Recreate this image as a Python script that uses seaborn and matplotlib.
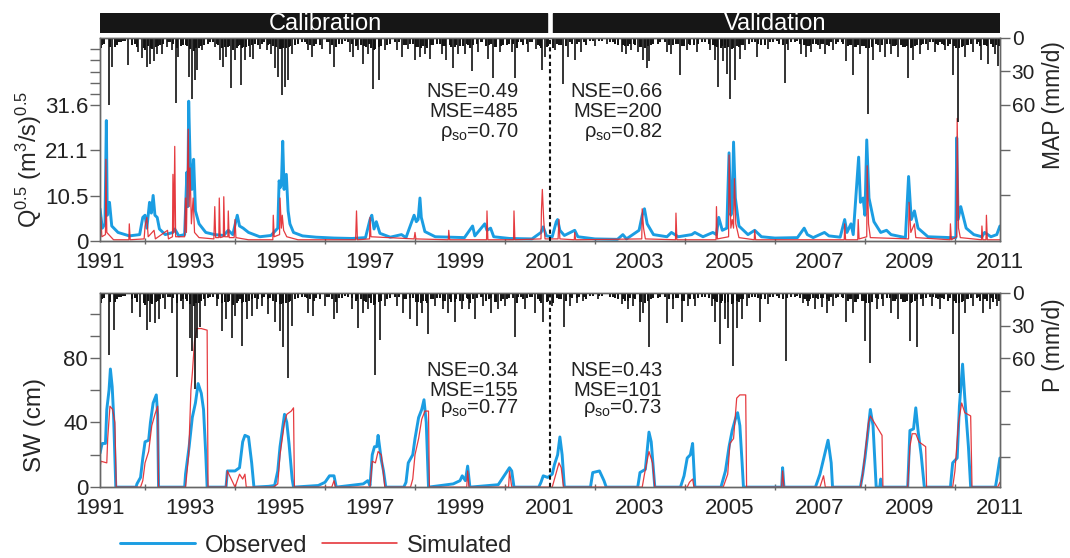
import matplotlib
matplotlib.use("Agg")
import matplotlib.pyplot as plt
from matplotlib.lines import Line2D
import pandas as pd
import seaborn as sns

sns.set_theme(style="ticks")
plt.rcParams["font.family"] = ["Liberation Sans", "DejaVu Sans"]
plt.rcParams["mathtext.fontset"] = "custom"
plt.rcParams["mathtext.rm"] = "Liberation Sans"
plt.rcParams["mathtext.it"] = "Liberation Sans"

OBS_C = "#1b9de2"
SIM_C = "#e3262b"
AX_C = "#666666"
RAIN_C = "#111111"

# ---------------------------------------------------------------
# data (decimal years)
# ---------------------------------------------------------------

# streamflow, Q^0.5
q_obs_t = [1991.00, 1991.05, 1991.11, 1991.14, 1991.16, 1991.21, 1991.26, 1991.40, 1991.65, 1991.88,
           1991.95, 1992.00, 1992.04, 1992.10, 1992.14, 1992.18, 1992.22, 1992.27, 1992.32, 1992.45,
           1992.62, 1992.66, 1992.75, 1992.88, 1992.93, 1992.95, 1992.97, 1993.00, 1993.04, 1993.08,
           1993.12, 1993.20, 1993.35, 1993.55, 1993.75, 1993.85, 1993.95, 1994.05, 1994.10, 1994.18,
           1994.30, 1994.55, 1994.80, 1994.95, 1994.98, 1995.01, 1995.03, 1995.06, 1995.09, 1995.14,
           1995.18, 1995.22, 1995.30, 1995.50, 1995.80, 1996.20, 1996.60, 1996.90, 1997.00, 1997.04,
           1997.09, 1997.14, 1997.22, 1997.45, 1997.70, 1997.80, 1997.98, 1998.03, 1998.07, 1998.11,
           1998.14, 1998.22, 1998.45, 1998.80, 1999.10, 1999.28, 1999.33, 1999.55, 1999.60, 1999.68,
           1999.75, 2000.10, 2000.60, 2000.80, 2000.85, 2000.92, 2001.05, 2001.14, 2001.17, 2001.22,
           2001.32, 2001.55, 2001.62, 2002.00, 2002.50, 2002.62, 2002.70, 2002.98, 2003.05, 2003.10,
           2003.16, 2003.30, 2003.60, 2003.70, 2003.85, 2004.15, 2004.22, 2004.40, 2004.62, 2004.70,
           2004.75, 2004.83, 2004.93, 2004.98, 2005.02, 2005.05, 2005.08, 2005.12, 2005.20, 2005.40,
           2005.55, 2005.70, 2006.00, 2006.50, 2006.65, 2006.72, 2006.85, 2007.10, 2007.20, 2007.45,
           2007.55, 2007.60, 2007.69, 2007.74, 2007.86, 2007.90, 2007.96, 2008.00, 2008.04, 2008.09,
           2008.20, 2008.35, 2008.48, 2008.58, 2008.90, 2008.97, 2009.03, 2009.10, 2009.18, 2009.40,
           2009.90, 2010.02, 2010.04, 2010.07, 2010.13, 2010.25, 2010.42, 2010.60, 2010.66, 2010.80,
           2010.93, 2011.00]
q_obs_v = [7.5, 3.0, 4.0, 28.0, 6.0, 9.0, 3.5, 2.0, 1.2, 1.5,
           5.5, 6.0, 3.0, 9.0, 6.5, 10.6, 6.0, 5.5, 2.8, 1.5,
           2.0, 2.8, 1.2, 1.5, 16.0, 8.0, 32.5, 19.5, 12.0, 19.0,
           7.0, 4.0, 2.0, 1.5, 1.3, 2.5, 1.5, 6.0, 3.5, 3.0,
           2.0, 1.0, 1.3, 3.0, 14.0, 12.5, 13.0, 23.2, 12.0, 15.5,
           7.0, 4.0, 2.0, 1.2, 0.9, 0.7, 0.6, 0.8, 5.0, 6.0,
           2.8, 4.5, 1.8, 0.9, 1.5, 0.8, 6.0, 4.5, 5.0, 10.0,
           5.5, 2.2, 1.0, 0.9, 0.8, 3.5, 1.2, 4.0, 2.5, 3.0,
           1.0, 0.6, 0.5, 2.0, 3.3, 1.2, 1.0, 4.5, 5.0, 2.5,
           1.3, 2.5, 1.0, 0.5, 0.4, 1.5, 0.5, 2.5, 6.0, 7.5,
           4.0, 1.5, 1.0, 2.0, 1.0, 1.5, 2.0, 1.0, 2.0, 1.5,
           5.5, 2.5, 3.0, 20.5, 6.0, 7.5, 23.0, 10.0, 3.5, 1.5,
           2.5, 1.0, 0.7, 0.8, 3.0, 1.5, 0.8, 2.0, 1.2, 0.9,
           5.0, 2.0, 4.0, 1.5, 19.5, 9.0, 10.0, 6.0, 23.5, 10.0,
           4.5, 2.0, 2.5, 1.5, 0.8, 15.0, 5.0, 7.0, 3.0, 1.0,
           0.8, 0.8, 24.0, 5.0, 8.0, 3.0, 1.5, 1.0, 2.0, 1.0,
           1.5, 3.5]

q_sim_t = [1991.00, 1991.02, 1991.04, 1991.12, 1991.13, 1991.15, 1991.30, 1991.64, 1991.65, 1991.67,
           1991.98, 1992.00, 1992.04, 1992.07, 1992.20, 1992.23, 1992.50, 1992.52, 1992.61, 1992.62,
           1992.64, 1992.66, 1992.68, 1992.88, 1992.90, 1992.92, 1992.96, 1992.98, 1993.00, 1993.03,
           1993.07, 1993.10, 1993.20, 1993.53, 1993.55, 1993.57, 1993.64, 1993.65, 1993.67, 1993.74,
           1993.75, 1993.77, 1993.84, 1993.85, 1993.87, 1993.98, 1994.00, 1994.02, 1994.30, 1994.84,
           1994.85, 1994.87, 1994.99, 1995.00, 1995.03, 1995.05, 1995.08, 1995.15, 1995.40, 1996.68,
           1996.70, 1996.72, 1996.99, 1997.00, 1997.02, 1997.98, 1998.00, 1998.02, 1998.74, 1998.75,
           1998.77, 1999.59, 1999.60, 1999.62, 2000.19, 2000.20, 2000.22, 2000.80, 2000.81, 2000.83,
           2000.86, 2000.89, 2001.18, 2001.20, 2001.22, 2001.54, 2001.55, 2001.57, 2003.04, 2003.05,
           2003.08, 2003.12, 2003.79, 2003.80, 2003.82, 2004.69, 2004.70, 2004.72, 2004.97, 2004.98,
           2005.02, 2005.05, 2005.08, 2005.10, 2005.13, 2005.20, 2005.54, 2005.55, 2005.57, 2007.54,
           2007.55, 2007.57, 2007.84, 2007.85, 2007.87, 2008.04, 2008.05, 2008.08, 2008.12, 2008.97,
           2008.98, 2009.02, 2009.10, 2009.13, 2009.89, 2009.90, 2009.92, 2010.04, 2010.05, 2010.08,
           2010.12, 2010.59, 2010.60, 2010.62, 2010.69, 2010.70, 2010.72, 2011.00]
q_sim_v = [0.5, 5.5, 1.0, 1.5, 19.0, 2.0, 0.3, 0.3, 4.0, 0.3,
           0.5, 3.5, 5.5, 1.0, 2.5, 0.5, 2.5, 0.5, 1.0, 15.5,
           2.0, 22.0, 1.0, 1.0, 10.0, 2.0, 26.0, 8.0, 17.0, 4.0,
           10.0, 2.0, 0.8, 0.5, 8.0, 0.8, 0.8, 10.0, 0.8, 1.0,
           10.3, 1.0, 1.0, 7.0, 0.8, 0.8, 5.0, 0.8, 0.3, 0.3,
           6.0, 1.0, 1.5, 10.0, 3.0, 6.0, 2.5, 1.0, 0.3, 0.3,
           7.0, 0.3, 0.5, 5.5, 1.0, 0.5, 2.0, 0.5, 0.3, 2.5,
           0.3, 0.3, 7.0, 0.3, 0.3, 7.0, 0.3, 0.5, 7.0, 12.0,
           5.0, 0.5, 0.5, 5.0, 0.5, 0.3, 2.0, 0.3, 0.5, 7.5,
           3.0, 0.5, 0.3, 6.5, 0.3, 0.3, 8.0, 0.5, 1.0, 20.0,
           3.0, 5.0, 3.0, 14.5, 4.0, 0.8, 0.3, 2.5, 0.3, 0.3,
           4.0, 0.3, 0.3, 5.0, 0.5, 1.0, 17.5, 4.0, 0.8, 0.5,
           9.0, 2.0, 4.0, 0.8, 0.3, 4.0, 0.3, 1.0, 28.5, 3.0,
           0.8, 0.3, 3.5, 0.3, 0.3, 6.0, 0.3, 0.3]

# soil water, cm
sw_obs_t = [1991.00, 1991.03, 1991.05, 1991.12, 1991.15, 1991.20, 1991.23, 1991.27, 1991.30, 1991.35,
            1991.80, 1991.82, 1991.90, 1991.95, 1992.00, 1992.08, 1992.12, 1992.18, 1992.25, 1992.28,
            1992.30, 1992.88, 1992.90, 1992.98, 1993.05, 1993.12, 1993.18, 1993.25, 1993.30, 1993.35,
            1993.38, 1993.80, 1993.83, 1994.00, 1994.10, 1994.17, 1994.22, 1994.30, 1994.37, 1994.42,
            1994.75, 1994.88, 1994.95, 1995.00, 1995.05, 1995.10, 1995.15, 1995.20, 1995.27, 1995.30,
            1995.85, 1996.00, 1996.10, 1996.20, 1996.25, 1996.85, 1996.95, 1997.00, 1997.05, 1997.10,
            1997.15, 1997.18, 1997.25, 1997.30, 1997.35, 1997.75, 1997.80, 1997.85, 1997.95, 1998.00,
            1998.08, 1998.15, 1998.20, 1998.25, 1998.30, 1998.85, 1999.00, 1999.05, 1999.12, 1999.17,
            1999.22, 1999.85, 2000.10, 2000.15, 2000.20, 2000.75, 2000.80, 2000.85, 2000.95, 2001.05,
            2001.10, 2001.17, 2001.22, 2001.27, 2001.32, 2001.90, 2001.95, 2002.10, 2002.20, 2002.25,
            2002.95, 2003.00, 2003.12, 2003.17, 2003.20, 2003.25, 2003.33, 2003.90, 2003.98, 2004.05,
            2004.12, 2004.17, 2004.22, 2004.80, 2004.90, 2004.98, 2005.05, 2005.12, 2005.17, 2005.22,
            2005.27, 2005.30, 2006.15, 2006.17, 2006.20, 2006.90, 2007.00, 2007.12, 2007.18, 2007.25,
            2007.28, 2007.90, 2007.95, 2008.00, 2008.05, 2008.12, 2008.18, 2008.25, 2008.33, 2008.35,
            2008.37, 2008.95, 2009.00, 2009.08, 2009.13, 2009.18, 2009.25, 2009.32, 2009.90, 2009.95,
            2010.05, 2010.10, 2010.17, 2010.22, 2010.30, 2010.35, 2010.90, 2010.93, 2011.00]
sw_obs_v = [21, 25, 27, 27, 48, 60, 73, 62, 45, 0,
            0, 2, 6, 18, 28, 29, 40, 52, 57, 45,
            0, 0, 8, 25, 43, 52, 64, 58, 48, 20,
            0, 0, 10, 10, 12, 28, 32, 31, 15, 0,
            0.5, 1, 10, 25, 35, 45, 40, 27, 5, 0,
            1, 3, 7, 7, 0, 2, 4, 1, 20, 25,
            25, 32, 17, 10, 0, 0, 3, 15, 20, 30,
            43, 48, 54, 40, 0, 2, 4, 7, 4, 13,
            0, 1.5, 12, 10, 0, 0, 3, 7, 6, 8,
            14, 20, 31, 20, 0, 0, 9, 10, 4, 0,
            0, 9, 11, 25, 34, 28, 0, 0, 7, 18,
            20, 27, 0, 0, 10, 25, 35, 42, 46, 38,
            15, 0, 0, 12, 0, 0, 8, 22, 29, 15,
            0, 0, 8, 18, 30, 48, 38, 0, 0, 5,
            0, 0, 35, 36, 49, 35, 20, 0, 0, 15,
            18, 50, 76, 55, 25, 0, 0, 5, 18]

sw_sim_t = [1991.00, 1991.02, 1991.15, 1991.17, 1991.22, 1991.28, 1991.33, 1991.36, 1991.90, 1991.95,
            1992.00, 1992.08, 1992.15, 1992.22, 1992.28, 1992.30, 1992.90, 1992.97, 1993.02, 1993.05,
            1993.10, 1993.15, 1993.25, 1993.38, 1993.40, 1993.80, 1993.83, 1993.95, 1994.00, 1994.10,
            1994.17, 1994.22, 1994.25, 1994.85, 1994.95, 1995.00, 1995.05, 1995.10, 1995.15, 1995.25,
            1995.30, 1995.32, 1996.15, 1996.20, 1996.23, 1997.00, 1997.05, 1997.12, 1997.18, 1997.25,
            1997.30, 1997.33, 1997.90, 1997.95, 1998.00, 1998.08, 1998.15, 1998.22, 1998.30, 1998.32,
            1999.15, 1999.17, 1999.20, 2000.08, 2000.10, 2000.15, 2001.05, 2001.10, 2001.20, 2001.25,
            2001.30, 2003.05, 2003.10, 2003.20, 2003.28, 2003.33, 2004.05, 2004.10, 2004.17, 2004.20,
            2004.85, 2004.95, 2005.00, 2005.08, 2005.15, 2005.22, 2005.35, 2005.37, 2006.15, 2006.17,
            2006.20, 2007.00, 2007.08, 2007.12, 2007.90, 2007.95, 2008.00, 2008.08, 2008.12, 2008.25,
            2008.38, 2008.40, 2008.95, 2009.00, 2009.05, 2009.13, 2009.20, 2009.35, 2009.37, 2009.95,
            2010.00, 2010.08, 2010.15, 2010.22, 2010.35, 2010.38, 2010.95, 2011.00]
sw_sim_v = [12, 16, 15, 30, 50, 48, 40, 0, 0, 4,
            15, 22, 38, 45, 50, 0, 0, 20, 60, 70,
            90, 98, 98, 97, 0, 0, 10, 3, 0, 8,
            5, 8, 0, 0, 2, 20, 30, 40, 45, 47,
            49, 0, 0, 4, 0, 0, 16, 15, 22, 20,
            8, 0, 0, 5, 20, 30, 42, 47, 47, 0,
            0, 10, 0, 0, 10, 0, 0, 5, 15, 12,
            0, 0, 8, 22, 15, 0, 0, 3, 5, 0,
            0, 8, 27, 30, 55, 57, 57, 0, 0, 10,
            0, 0, 7, 0, 0, 8, 20, 40, 44, 38,
            32, 0, 0, 25, 33, 33, 28, 25, 0, 0,
            10, 40, 52, 46, 44, 0, 0, 3]

# mean areal precipitation (top panel), mm/d
map_t = [1991.19, 1991.26, 1991.63, 1991.85, 1991.93, 1992.04, 1992.11, 1992.19, 1992.26, 1992.37,
         1992.48, 1992.59, 1992.68, 1992.74, 1992.98, 1993.04, 1993.10, 1993.15, 1993.26, 1993.56,
         1993.67, 1993.74, 1993.81, 1993.91, 1993.99, 1994.13, 1994.22, 1994.33, 1994.41, 1994.56,
         1994.70, 1994.81, 1994.89, 1994.96, 1995.04, 1995.10, 1995.17, 1995.26, 1995.63, 1995.70,
         1995.93, 1996.11, 1996.19, 1996.56, 1996.63, 1996.74, 1996.85, 1996.95, 1997.06, 1997.19,
         1997.33, 1997.59, 1997.70, 1997.85, 1998.00, 1998.11, 1998.22, 1998.33, 1998.59, 1998.70,
         1998.85, 1998.96, 1999.11, 1999.26, 1999.41, 1999.63, 1999.74, 1999.89, 2000.15, 2000.22,
         2000.52, 2000.70, 2000.83, 2000.89, 2001.11, 2001.28, 2001.41, 2001.56, 2001.70, 2002.00,
         2002.26, 2002.59, 2002.70, 2002.81, 2002.96, 2003.07, 2003.15, 2003.21, 2003.59, 2003.70,
         2003.89, 2004.04, 2004.26, 2004.56, 2004.67, 2004.74, 2004.85, 2004.93, 2005.01, 2005.11,
         2005.22, 2005.33, 2005.59, 2005.85, 2006.22, 2006.30, 2006.59, 2006.70, 2006.81, 2007.00,
         2007.11, 2007.30, 2007.59, 2007.74, 2007.89, 2008.07, 2008.19, 2008.33, 2008.44, 2008.59,
         2008.74, 2008.96, 2009.07, 2009.22, 2009.41, 2009.56, 2009.78, 2009.96, 2010.07, 2010.22,
         2010.41, 2010.59, 2010.74, 2010.89, 2010.96]
map_mm = [60, 26, 24, 13, 18, 26, 23, 21, 14, 14,
          8, 11, 58, 17, 35, 55, 38, 29, 11, 8,
          20, 26, 17, 45, 20, 42, 20, 17, 19, 10,
          11, 14, 27, 35, 51, 44, 38, 14, 11, 17,
          10, 14, 26, 13, 17, 11, 23, 14, 46, 38,
          11, 11, 17, 10, 20, 17, 14, 19, 14, 20,
          27, 14, 14, 30, 13, 19, 36, 13, 13, 36,
          13, 10, 29, 17, 11, 41, 17, 20, 13, 7,
          5, 13, 14, 11, 13, 20, 27, 21, 13, 14,
          33, 11, 13, 11, 20, 44, 21, 32, 55, 38,
          19, 11, 17, 10, 40, 11, 14, 17, 13, 10,
          14, 11, 21, 33, 14, 68, 20, 13, 17, 14,
          17, 36, 20, 14, 11, 13, 11, 33, 75, 17,
          13, 20, 23, 14, 25]

# station precipitation (bottom panel), mm/d
p_t = [1991.19, 1991.30, 1991.70, 1991.89, 1992.04, 1992.11, 1992.22, 1992.30, 1992.44, 1992.59,
       1992.70, 1992.85, 1993.00, 1993.05, 1993.10, 1993.15, 1993.22, 1993.33, 1993.59, 1993.70,
       1993.81, 1993.93, 1994.00, 1994.15, 1994.26, 1994.37, 1994.48, 1994.59, 1994.74, 1994.89,
       1995.00, 1995.07, 1995.17, 1995.26, 1995.63, 1995.74, 1996.00, 1996.19, 1996.26, 1996.59,
       1996.74, 1996.85, 1996.96, 1997.10, 1997.22, 1997.33, 1997.59, 1997.74, 1997.89, 1998.04,
       1998.15, 1998.30, 1998.44, 1998.63, 1998.74, 1998.89, 1999.04, 1999.19, 1999.33, 1999.52,
       1999.70, 1999.85, 2000.00, 2000.22, 2000.44, 2000.67, 2000.85, 2001.04, 2001.31, 2001.44,
       2001.59, 2001.74, 2002.07, 2002.59, 2002.74, 2002.85, 2003.00, 2003.07, 2003.20, 2003.59,
       2003.74, 2003.93, 2004.07, 2004.22, 2004.59, 2004.67, 2004.78, 2004.89, 2004.96, 2005.06,
       2005.16, 2005.26, 2005.37, 2005.67, 2005.85, 2006.24, 2006.63, 2006.74, 2006.89, 2007.04,
       2007.15, 2007.30, 2007.59, 2007.74, 2008.00, 2008.11, 2008.26, 2008.41, 2008.59, 2008.74,
       2009.00, 2009.15, 2009.30, 2009.48, 2009.67, 2009.96, 2010.10, 2010.22, 2010.41, 2010.63,
       2010.78, 2010.93]
p_mm = [57, 34, 18, 22, 34, 27, 28, 24, 15, 18,
        77, 15, 41, 53, 88, 41, 31, 12, 12, 35,
        24, 41, 21, 49, 24, 21, 15, 12, 19, 27,
        35, 50, 78, 30, 18, 21, 12, 24, 18, 15,
        32, 18, 15, 75, 43, 12, 12, 18, 24, 30,
        18, 38, 12, 15, 18, 27, 15, 15, 24, 12,
        18, 15, 12, 40, 15, 18, 27, 12, 31, 12,
        9, 7, 6, 10, 15, 12, 27, 18, 50, 28,
        15, 27, 12, 12, 12, 27, 47, 24, 32, 67,
        32, 24, 12, 27, 10, 62, 9, 12, 15, 13,
        18, 12, 27, 18, 44, 64, 15, 12, 18, 24,
        44, 50, 12, 12, 15, 38, 92, 18, 12, 18,
        15, 12]

# light rain days, shared by both panels, mm/d
drizzle_t = [1991.05, 1991.33, 1991.42, 1991.50, 1991.78, 1991.97, 1992.07, 1992.15, 1992.33, 1992.52,
             1992.63, 1992.80, 1992.90, 1993.08, 1993.19, 1993.40, 1993.50, 1993.62, 1993.78, 1993.86,
             1994.04, 1994.10, 1994.18, 1994.30, 1994.45, 1994.52, 1994.65, 1994.78, 1994.92, 1995.02,
             1995.13, 1995.22, 1995.40, 1995.55, 1995.66, 1995.80, 1996.05, 1996.15, 1996.30, 1996.45,
             1996.60, 1996.68, 1996.80, 1996.90, 1997.02, 1997.12, 1997.25, 1997.45, 1997.65, 1997.80,
             1997.95, 1998.07, 1998.18, 1998.27, 1998.40, 1998.50, 1998.66, 1998.80, 1998.92, 1999.07,
             1999.15, 1999.30, 1999.46, 1999.58, 1999.68, 1999.80, 1999.95, 2000.08, 2000.30, 2000.40,
             2000.60, 2000.77, 2000.93, 2001.07, 2001.20, 2001.35, 2001.50, 2001.65, 2001.80, 2001.90,
             2002.15, 2002.40, 2002.52, 2002.66, 2002.77, 2002.90, 2003.03, 2003.11, 2003.30, 2003.45,
             2003.65, 2003.80, 2003.98, 2004.12, 2004.30, 2004.45, 2004.62, 2004.71, 2004.82, 2004.90,
             2005.04, 2005.19, 2005.29, 2005.50, 2005.63, 2005.78, 2005.95, 2006.10, 2006.35, 2006.50,
             2006.66, 2006.76, 2006.85, 2006.95, 2007.06, 2007.20, 2007.40, 2007.52, 2007.66, 2007.80,
             2007.93, 2008.03, 2008.15, 2008.30, 2008.50, 2008.66, 2008.80, 2008.90, 2009.03, 2009.11,
             2009.25, 2009.36, 2009.52, 2009.62, 2009.72, 2009.85, 2010.02, 2010.15, 2010.30, 2010.48,
             2010.55, 2010.68, 2010.84, 2010.98]
drizzle_mm = [6, 8, 4, 3, 5, 9, 7, 10, 6, 4,
              5, 7, 6, 12, 9, 5, 4, 6, 8, 7,
              9, 6, 8, 7, 5, 6, 4, 5, 8, 10,
              9, 7, 5, 4, 6, 5, 4, 6, 5, 3,
              5, 7, 6, 8, 9, 10, 7, 5, 4, 6,
              5, 8, 7, 9, 6, 5, 7, 8, 6, 7,
              5, 6, 4, 7, 5, 8, 6, 5, 4, 6,
              4, 7, 8, 9, 6, 7, 5, 4, 6, 3,
              3, 4, 6, 7, 5, 6, 8, 9, 5, 4,
              6, 5, 7, 6, 5, 4, 6, 8, 7, 9,
              10, 8, 6, 4, 5, 6, 4, 5, 4, 3,
              6, 7, 5, 6, 5, 7, 4, 5, 6, 8,
              7, 9, 8, 6, 5, 7, 6, 8, 9, 7,
              6, 5, 4, 6, 5, 7, 9, 8, 6, 5,
              7, 6, 8, 7]

drizzle2_t = [1991.02, 1991.09, 1991.23, 1991.37, 1991.46, 1991.56, 1991.72, 1991.82, 1992.01, 1992.13,
              1992.24, 1992.28, 1992.41, 1992.56, 1992.71, 1992.84, 1992.94, 1993.01, 1993.13, 1993.24,
              1993.30, 1993.45, 1993.59, 1993.70, 1993.84, 1993.96, 1994.07, 1994.16, 1994.25, 1994.38,
              1994.60, 1994.74, 1994.85, 1994.99, 1995.07, 1995.19, 1995.33, 1995.48, 1995.60, 1995.75,
              1995.88, 1996.08, 1996.24, 1996.38, 1996.52, 1996.71, 1996.87, 1996.98, 1997.09, 1997.21,
              1997.38, 1997.55, 1997.75, 1997.88, 1998.02, 1998.13, 1998.25, 1998.36, 1998.55, 1998.62,
              1998.77, 1998.88, 1999.01, 1999.18, 1999.22, 1999.38, 1999.50, 1999.65, 1999.78, 1999.92,
              2000.05, 2000.18, 2000.26, 2000.36, 2000.48, 2000.56, 2000.74, 2000.80, 2000.96, 2001.15,
              2001.25, 2001.45, 2001.60, 2001.76, 2001.96, 2002.10, 2002.33, 2002.45, 2002.63, 2002.73,
              2002.87, 2003.00, 2003.18, 2003.24, 2003.40, 2003.55, 2003.74, 2003.84, 2003.93, 2004.08,
              2004.20, 2004.38, 2004.53, 2004.66, 2004.79, 2004.88, 2004.96, 2005.07, 2005.15, 2005.25,
              2005.42, 2005.56, 2005.70, 2005.90, 2006.05, 2006.18, 2006.27, 2006.45, 2006.56, 2006.64,
              2006.72, 2006.79, 2006.92, 2007.03, 2007.15, 2007.25, 2007.35, 2007.48, 2007.62, 2007.70,
              2007.77, 2007.85, 2007.98, 2008.10, 2008.24, 2008.38, 2008.55, 2008.62, 2008.70, 2008.85,
              2008.93, 2009.05, 2009.16, 2009.30, 2009.45, 2009.58, 2009.67, 2009.75, 2009.88, 2009.99,
              2010.10, 2010.18, 2010.26, 2010.36, 2010.52, 2010.64, 2010.72, 2010.80, 2010.92]
drizzle2_mm = [9, 5, 8, 6, 4, 3, 6, 8, 11, 9,
               8, 7, 5, 4, 9, 6, 7, 10, 9, 7,
               6, 4, 5, 9, 8, 11, 7, 9, 8, 6,
               5, 6, 7, 10, 9, 8, 6, 4, 5, 7,
               6, 4, 8, 5, 4, 6, 7, 5, 11, 8,
               6, 4, 6, 5, 8, 9, 7, 6, 5, 7,
               6, 8, 7, 6, 9, 5, 4, 6, 8, 7,
               6, 5, 9, 4, 5, 4, 6, 9, 7, 5,
               6, 4, 5, 4, 3, 3, 4, 5, 6, 7,
               5, 8, 7, 6, 5, 4, 6, 5, 7, 5,
               6, 4, 5, 7, 9, 6, 8, 9, 7, 6,
               5, 4, 6, 4, 3, 6, 5, 4, 5, 6,
               7, 6, 5, 5, 6, 4, 5, 4, 7, 6,
               8, 6, 7, 9, 5, 6, 5, 7, 6, 8,
               7, 8, 6, 5, 4, 5, 4, 6, 5, 7,
               9, 7, 6, 5, 4, 6, 7, 5, 6]

stats_top = [("NSE=0.49", "MSE=485", r"$\rho_{\rm so}$=0.70"),
             ("NSE=0.66", "MSE=200", r"$\rho_{\rm so}$=0.82")]
stats_bot = [("NSE=0.34", "MSE=155", r"$\rho_{\rm so}$=0.77"),
             ("NSE=0.43", "MSE=101", r"$\rho_{\rm so}$=0.73")]

q_obs = pd.DataFrame({"t": q_obs_t, "v": q_obs_v})
q_sim = pd.DataFrame({"t": q_sim_t, "v": q_sim_v})
sw_obs = pd.DataFrame({"t": sw_obs_t, "v": sw_obs_v})
sw_sim = pd.DataFrame({"t": sw_sim_t, "v": sw_sim_v})

# ---------------------------------------------------------------
# figure
# ---------------------------------------------------------------
fig = plt.figure(figsize=(10.7, 5.58), dpi=100)
L, W = 0.0935, 0.841
ax_top = fig.add_axes([L, 0.568, W, 0.364])
ax_bot = fig.add_axes([L, 0.127, W, 0.348])
ax_head = fig.add_axes([L, 0.941, W, 0.036])

# header bar
ax_head.set_xlim(1991, 2011)
ax_head.set_ylim(0, 1)
ax_head.axvspan(1991, 2000.94, color="#161616")
ax_head.axvspan(2001.06, 2011, color="#161616")
ax_head.text(1996, 0.42, "Calibration", color="white", ha="center", va="center", fontsize=17)
ax_head.text(2006, 0.42, "Validation", color="white", ha="center", va="center", fontsize=17)
ax_head.axis("off")


def style_axis(ax):
    for s in ax.spines.values():
        s.set_color(AX_C)
        s.set_linewidth(1.0)
    ax.tick_params(axis="y", colors=AX_C, labelcolor="#222222", labelsize=16, length=7, width=1.0, pad=1.5)
    ax.tick_params(axis="y", which="minor", colors=AX_C, length=7, width=1.0)


def rain(ax, t, mm, ymax, labelled, minor, label, label_y):
    ax2 = ax.twinx()
    ax2.vlines(drizzle_t, 0, drizzle_mm, color=RAIN_C, lw=1.4)
    ax2.vlines(drizzle2_t, 0, drizzle2_mm, color=RAIN_C, lw=1.4)
    ax2.vlines(t, 0, mm, color=RAIN_C, lw=1.2)
    ax2.set_ylim(ymax, 0)
    ax2.set_yticks(labelled)
    ax2.set_yticks(minor, minor=True)
    ax2.set_ylabel(label, fontsize=16.5)
    ax2.yaxis.set_label_coords(1.047, label_y)
    style_axis(ax2)
    ax2.tick_params(axis="y", labelsize=15)
    ax2.grid(False)
    return ax2


def hydro(ax, obs, sim, stats, ys):
    sns.lineplot(data=obs, x="t", y="v", ax=ax, color=OBS_C, lw=2.1, sort=False, estimator=None)
    sns.lineplot(data=sim, x="t", y="v", ax=ax, color=SIM_C, lw=0.9, sort=False, estimator=None, alpha=0.9)
    ax.axvline(2001, color="#111111", lw=1.5, ls=(0, (2, 1.5)), zorder=5)
    ax.set_xlim(1991, 2011)
    ax.set_xticks([1991, 1993, 1995, 1997, 1999, 2001, 2003, 2005, 2007, 2009, 2011])
    ax.set_xticks([1992, 1994, 1996, 1998, 2000, 2002, 2004, 2006, 2008, 2010], minor=True)
    ax.set_xlabel("")
    ax.tick_params(axis="x", colors=AX_C, labelcolor="#222222", labelsize=16, length=0, pad=8)
    ax.tick_params(axis="x", which="minor", colors=AX_C, length=5, width=1.0, direction="inout")
    trans = ax.get_xaxis_transform()
    for xr, lines in zip([2000.3, 2003.5], stats):
        for yy, txt in zip(ys, lines):
            ax.text(xr, yy, txt, transform=trans, ha="right", va="center", fontsize=14.5, color="#222222")
    style_axis(ax)


# top panel: streamflow
hydro(ax_top, q_obs, q_sim, stats_top, [0.735, 0.636, 0.537])
ax_top.set_ylim(0, 47.2)
ax_top.set_yticks([0, 10.5, 21.1, 31.6])
ax_top.set_yticklabels(["0", "10.5", "21.1", "31.6"])
ax_top.set_yticks([34.2, 36.8, 39.4, 42.0, 44.6], minor=True)
ax_top.set_ylabel(r"Q$^{0.5}$ (m$^3$/s)$^{0.5}$", fontsize=17)
ax_top.yaxis.set_label_coords(-0.062, 0.4)
rain(ax_top, map_t, map_mm, 182, [0, 30, 60], [100, 141], "MAP (mm/d)", 0.67)

# bottom panel: SW
hydro(ax_bot, sw_obs, sw_sim, stats_bot, [0.603, 0.5, 0.405])
ax_bot.set_ylim(0, 120)
ax_bot.set_yticks([0, 40, 80])
ax_bot.set_yticks([20, 60, 93.3, 106.7], minor=True)
ax_bot.set_ylabel("SW (cm)", fontsize=17.5)
ax_bot.yaxis.set_label_coords(-0.06, 0.32)
rain(ax_bot, p_t, p_mm, 178, [0, 30, 60], [90, 120, 150], "P (mm/d)", 0.73)

# legend
handles = [Line2D([], [], color=OBS_C, lw=2.1), Line2D([], [], color=SIM_C, lw=1.1)]
fig.legend(handles, ["Observed", "Simulated"], loc="center left", bbox_to_anchor=(0.112, 0.022),
           ncol=2, frameon=False, fontsize=17, handlelength=3.2, columnspacing=0.6,
           handletextpad=0.4, borderaxespad=0, borderpad=0)

fig.savefig("out.png", dpi=100)
